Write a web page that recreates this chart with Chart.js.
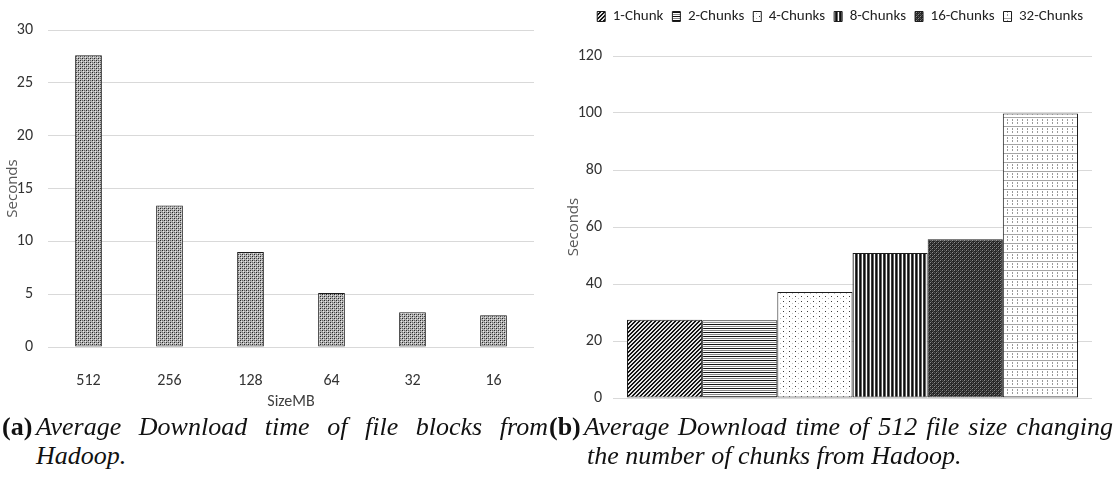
<!DOCTYPE html>
<html>
<head>
<meta charset="utf-8">
<script src="https://cdn.jsdelivr.net/npm/chart.js@4.4.1/dist/chart.umd.min.js"></script>
<style>
  html, body { margin: 0; padding: 0; background: #fff; width: 1118px; height: 483px; overflow: hidden; }
  canvas { position: absolute; top: 0; }
  #downloadBySize { left: 0; }
  #downloadByChunks { left: 560px; }
  .cap { position: absolute; display: inline-block; white-space: nowrap;
         font-family: "Liberation Serif", "Times New Roman", serif;
         font-size: 26px; line-height: 26px; color: #111; }
  .cap.tag { font-weight: bold; font-style: normal; }
  .cap.txt { font-style: italic; }
</style>
</head>
<body>
<canvas id="downloadBySize" width="560" height="420"></canvas>
<canvas id="downloadByChunks" width="558" height="420"></canvas>

<span class="cap tag" style="left:2px; top:414px">(a)</span>
<span class="cap txt" id="capA1" data-right="548" style="left:36px; top:414px">Average Download time of file blocks from</span>
<span class="cap txt" style="left:36px; top:443px">Hadoop.</span>
<span class="cap tag" style="left:549px; top:414px">(b)</span>
<span class="cap txt" id="capB1" data-right="1113" style="left:584px; top:414px">Average Download time of 512 file size changing</span>
<span class="cap txt" style="left:587px; top:443px">the number of chunks from Hadoop.</span>

<script>
// ---- data: (a) download time per block size ----
const sizeLabels = ['512', '256', '128', '64', '32', '16'];
const sizeSeconds = [27.6, 13.4, 9.0, 5.1, 3.3, 3.0];
const sizeAxis = { min: 0, max: 30, step: 5 };

// ---- data: (b) 512 MB file split into chunks ----
const chunkLabels = ['1-Chunk', '2-Chunks', '4-Chunks', '8-Chunks', '16-Chunks', '32-Chunks'];
const chunkSeconds = [27.5, 27.3, 37.2, 50.9, 55.7, 99.8];
const chunkAxis = { min: 0, max: 120, step: 20 };

// ---- monochrome fill patterns ----
function tile(w, h, base, paint) {
  const c = document.createElement('canvas');
  c.width = w; c.height = h;
  const g = c.getContext('2d');
  g.fillStyle = base;
  g.fillRect(0, 0, w, h);
  paint(g);
  return g.createPattern(c, 'repeat');
}
function dots(g, color, pts) {
  g.fillStyle = color;
  pts.forEach(([x, y]) => g.fillRect(x, y, 1, 1));
}

const weave = tile(4, 4, '#b4b4b4', g => {
  dots(g, '#242424', [[0, 0], [2, 2]]);
  dots(g, '#666666', [[2, 0], [0, 2]]);
  dots(g, '#e8e8e8', [[1, 1], [3, 3]]);
});
const chunkFills = [
  // 1-Chunk: dense diagonal hatch
  tile(4, 4, '#e4e4e4', g => {
    const pts = [];
    for (let i = 0; i < 4; i++) { pts.push([i, 3 - i], [(i + 1) % 4, 3 - i]); }
    dots(g, '#141414', pts);
  }),
  // 2-Chunks: horizontal lines
  tile(1, 4, '#ffffff', g => { dots(g, '#111', [[0, 0]]); dots(g, '#8a8a8a', [[0, 2]]); }),
  // 4-Chunks: sparse dots
  tile(6, 5, '#ffffff', g => { dots(g, '#3a3a3a', [[1, 1]]); dots(g, '#bdbdbd', [[4, 3]]); }),
  // 8-Chunks: vertical lines
  tile(4, 1, '#ffffff', g => { dots(g, '#0e0e0e', [[0, 0]]); dots(g, '#666', [[1, 0]]); dots(g, '#3a3a3a', [[3, 0]]); }),
  // 16-Chunks: dark check
  tile(4, 4, '#262626', g => {
    dots(g, '#8c8c8c', [[0, 0], [2, 2]]);
    dots(g, '#555', [[2, 0], [0, 2], [1, 3], [3, 1]]);
  }),
  // 32-Chunks: light grid of dotted lines
  tile(5, 9, '#ffffff', g => {
    g.fillStyle = '#a5a5a5';
    g.fillRect(0, 0, 5, 1);
    dots(g, '#9a9a9a', [[2, 2], [2, 3], [2, 5], [2, 6]]);
  })
];

const sansFamily = 'Carlito, "Liberation Sans", sans-serif';
const tickFont = { family: sansFamily, size: 16 };
const legendFont = { family: sansFamily, size: 15 };
const titleFont = { family: '"Open Sans", "DejaVu Sans", sans-serif', size: 15 };
const gridColor = '#d9d9d9';
const tickColor = '#333333';

Chart.defaults.animation = false;
Chart.defaults.responsive = false;
Chart.defaults.devicePixelRatio = 1;
Chart.defaults.plugins.tooltip.enabled = false;

function valueAxis(range, width, tickPad, titlePad) {
  return {
    min: range.min, max: range.max,
    ticks: { stepSize: range.step, color: tickColor, font: tickFont, padding: tickPad },
    grid: { color: gridColor, lineWidth: 1, drawTicks: false },
    border: { display: false },
    title: { display: true, text: 'Seconds', color: '#595959', font: titleFont, padding: { top: titlePad, bottom: 0 } },
    afterFit(axis) { axis.width = width; }
  };
}

// (a) bar chart by block size
new Chart(document.getElementById('downloadBySize'), {
  type: 'bar',
  data: {
    labels: sizeLabels,
    datasets: [{
      label: 'Seconds',
      data: sizeSeconds,
      backgroundColor: weave,
      borderColor: '#1c1c1c',
      borderWidth: 1,
      borderSkipped: false,
      categoryPercentage: 1,
      barPercentage: 0.33
    }]
  },
  options: {
    layout: { padding: { top: 30, right: 26, left: 0, bottom: 0 } },
    plugins: { legend: { display: false } },
    scales: {
      x: {
        grid: { display: false },
        border: { display: false },
        ticks: { color: tickColor, font: tickFont, padding: 16 },
        title: { display: true, text: 'SizeMB', color: '#404040',
                 font: tickFont, padding: { top: 0, bottom: 8 } },
        afterFit(axis) { axis.height = 73; }
      },
      y: valueAxis(sizeAxis, 48, 15, 4)
    }
  }
});

// leaves room between the legend row and the top gridline
const legendGap = {
  id: 'legendGap',
  beforeInit(chart) {
    const fit = chart.legend.fit;
    chart.legend.fit = function () { fit.call(this); this.height += 22; };
  }
};

// (b) one group of bars, one dataset per chunk count
new Chart(document.getElementById('downloadByChunks'), {
  type: 'bar',
  data: {
    labels: [''],
    datasets: chunkLabels.map((name, i) => ({
      label: name,
      data: [chunkSeconds[i]],
      backgroundColor: chunkFills[i],
      borderColor: '#1c1c1c',
      borderWidth: 1,
      borderSkipped: false,
      categoryPercentage: 0.9416,
      barPercentage: 1
    }))
  },
  options: {
    layout: { padding: { top: 0, right: 26, left: 0, bottom: 22 } },
    plugins: {
      legend: {
        position: 'top',
        align: 'end',
        labels: { boxWidth: 8, boxHeight: 10, padding: 9, color: '#222', font: legendFont }
      }
    },
    scales: {
      x: { display: false },
      y: valueAxis(chunkAxis, 53, 11, 5)
    }
  },
  plugins: [legendGap]
});

// ---- captions: first lines are justified out to their right margin ----
function justifyCaptions() {
  document.querySelectorAll('.cap[data-right]').forEach(el => {
    el.style.wordSpacing = '0px';
    const box = el.getBoundingClientRect();
    const words = el.textContent.trim().split(/\s+/).length;
    const extra = (Number(el.dataset.right) - box.right) / (words - 1);
    el.style.wordSpacing = Math.max(0, extra) + 'px';
  });
}
justifyCaptions();
if (document.fonts && document.fonts.ready) document.fonts.ready.then(justifyCaptions);
</script>
</body>
</html>
